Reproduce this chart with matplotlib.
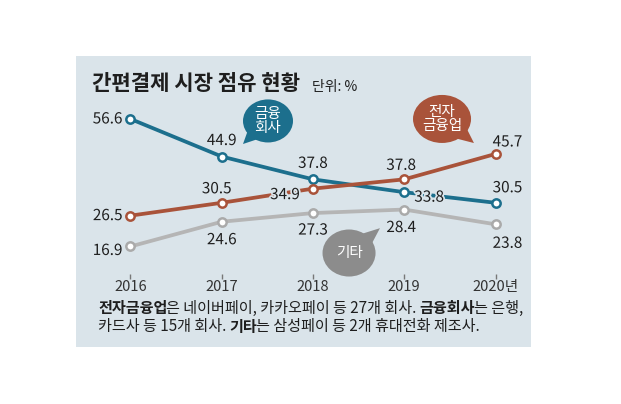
import numpy as np
import matplotlib.pyplot as plt
from matplotlib.patches import Ellipse, Polygon
import matplotlib.patheffects as pe

plt.rcParams['font.family'] = ['Noto Sans CJK KR', 'DejaVu Sans']

# 데이터 (단위: %)
years = [2016, 2017, 2018, 2019, 2020]
year_labels = ['2016', '2017', '2018', '2019', '2020년']
fin_co = [56.6, 44.9, 37.8, 33.8, 30.5]   # 금융회사
e_fin = [26.5, 30.5, 34.9, 37.8, 45.7]    # 전자금융업
others = [16.9, 24.6, 27.3, 28.4, 23.8]   # 기타

W, H = 621, 404
BG = '#dae4ea'
C_BLUE = '#1c6f8d'
C_RED = '#a9533a'
C_GRAY = '#b5b5b5'
C_BUB_GRAY = '#8c8c8c'
TXT = '#1e1e1e'

fig = plt.figure(figsize=(W / 100, H / 100), dpi=100)

# 배경 패널 = axes 영역 (픽셀)
pl, pt, pr, pb = 76, 56, 531, 347
ax = fig.add_axes([pl / W, 1 - pb / H, (pr - pl) / W, (pb - pt) / H])
ax.set_facecolor(BG)
for s in ax.spines.values():
    s.set_visible(False)
ax.set_xticks([])
ax.set_yticks([])
ax.set_xlim(2015.403, 2020.389)
ax.set_ylim(-14.4, 76.2)


def series(vals, color, mec, z):
    ax.plot(years, vals, color=color, lw=2.7, zorder=z, solid_capstyle='round')
    ax.plot(years, vals, 'o', ms=6, mfc='white', mec=mec, mew=1.8, zorder=z + 0.5)


series(others, C_GRAY, '#aaaaaa', 2)
series(fin_co, C_BLUE, C_BLUE, 3)
series(e_fin, C_RED, C_RED, 4)

# 값 라벨 오프셋 (px): dx, dy, ha
offs = {
    'fin': [(-8, 0, 'right'), (0, 16, 'center'), (0, 16, 'center'), (25, -5, 'center'), (12, 15, 'center')],
    'efin': [(-8, 0, 'right'), (-5, 14, 'center'), (-28, -6, 'center'), (-3, 14, 'center'), (12, 12, 'center')],
    'oth': [(-8, -4, 'right'), (0, -18, 'center'), (0, -17, 'center'), (-3, -18, 'center'), (12, -19, 'center')],
}
halo = [pe.withStroke(linewidth=2.5, foreground=BG)]
for key, vals in (('fin', fin_co), ('efin', e_fin), ('oth', others)):
    for x, v, (dx, dy, ha) in zip(years, vals, offs[key]):
        ax.annotate(f'{v:.1f}', (x, v), xytext=(dx * 0.72, dy * 0.72),
                    textcoords='offset points', ha=ha, va='center',
                    fontsize=11, color=TXT, zorder=8, path_effects=halo)


def bubble(cx, cy, w, h, tip, color, label):
    ax.add_patch(Ellipse((cx, cy), w, h, facecolor=color, lw=0, zorder=6))
    a, b = w / 2, h / 2
    t0 = np.arctan2((tip[1] - cy) / b, (tip[0] - cx) / a)
    base = [(cx + 0.85 * a * np.cos(t), cy + 0.85 * b * np.sin(t)) for t in (t0 - 0.4, t0 + 0.4)]
    ax.add_patch(Polygon([base[0], tip, base[1]], closed=True, facecolor=color, lw=0, zorder=6))
    ax.text(cx, cy, label, ha='center', va='center', color='white', fontsize=10.5,
            linespacing=1.05, zorder=7, fontweight='medium')


bubble(2017.507, 55.98, 0.548, 13.4, (2017.233, 48.8), C_BLUE, '금융\n회사')
bubble(2019.414, 56.6, 0.636, 14.95, (2019.764, 49.1), C_RED, '전자\n금융업')
bubble(2018.395, 14.86, 0.581, 14.64, (2018.734, 22.6), C_BUB_GRAY, '기타')

# x축 눈금과 연도
ax.vlines(years, 6.8, 8.3, color='#777777', lw=1, zorder=2)
for x, lab in zip(years, year_labels):
    ax.text(x, 4.27, lab, ha='center', va='center', fontsize=10.5, color='#333333')

# 제목
fig.text(92 / W, 1 - 83 / H, '간편결제 시장 점유 현황', fontsize=15.2, fontweight='bold',
         ha='left', va='center', color=TXT)
fig.text(312 / W, 1 - 87 / H, '단위: %', fontsize=10, ha='left', va='center', color=TXT)

# 주석 (굵은 글씨 섞임)
FN = 10.9
r = fig.canvas.get_renderer()


def width_of(s, bold=False):
    t = fig.text(0, 0, s, fontsize=FN, fontweight='bold' if bold else 'normal')
    w = t.get_window_extent(renderer=r).width
    t.remove()
    return w


gap = width_of('가 가') - width_of('가가')
# 굵은 글씨 뒤에 생기는 여백 보정 (px)
trim = {False: 0.0, True: 1.5}


def rich_line(xpx, ypx, parts):
    for txt, bold in parts:
        if txt == ' ':
            xpx += gap
            continue
        t = fig.text(xpx / W, 1 - ypx / H, txt, fontsize=FN,
                     fontweight='bold' if bold else 'normal',
                     ha='left', va='center', color=TXT)
        xpx += t.get_window_extent(renderer=r).width - trim[bold]


rich_line(98, 308, [('전자금융업', True), ('은 네이버페이, 카카오페이 등 27개 회사.', False),
                    (' ', False), ('금융회사', True), ('는 은행,', False)])
rich_line(98, 327, [('카드사 등 15개 회사.', False), (' ', False), ('기타', True),
                    ('는 삼성페이 등 2개 휴대전화 제조사.', False)])

fig.savefig('out.png', dpi=100)
